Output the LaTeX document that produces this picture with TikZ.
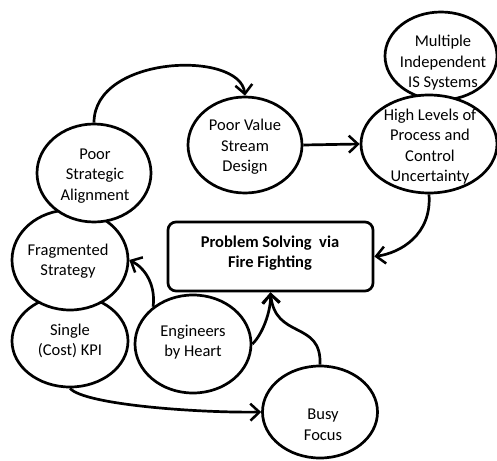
\documentclass[tikz,border=0pt]{standalone}
\usepackage{fontspec}
\setmainfont{Carlito}
\usetikzlibrary{shapes.geometric,arrows.meta}
\tikzset{
  ell/.style={draw, ellipse, line width=2.7pt, fill=white, inner sep=0pt},
  txt/.style={align=center, inner sep=0pt, font=\fontsize{16.5}{20.5}\selectfont},
  btxt/.style={align=center, inner sep=0pt, font=\fontsize{16.5}{20}\selectfont\bfseries},
  conn/.style={line width=2.7pt, -{Straight Barb[length=9pt,width=17pt,line width=2.5pt]}},
}
\begin{document}
\begin{tikzpicture}[x=1pt,y=-1pt]
\useasboundingbox (0,0) rectangle (497,460);
% ellipses
\node[ell, minimum width=112pt, minimum height=88pt] (mis) at (441,56) {};
\node[ell, minimum width=136pt, minimum height=98pt] (hl) at (429,144) {};
\node[ell, minimum width=114pt, minimum height=96pt] (pvs) at (245,145) {};
\node[ell, minimum width=116pt, minimum height=92pt] (sk) at (70,341) {};
\node[ell, minimum width=116pt, minimum height=100pt] (fs) at (70,260) {};
\node[ell, minimum width=114pt, minimum height=98pt] (psa) at (94,173) {};
\node[ell, minimum width=116pt, minimum height=98pt] (eh) at (193,344) {};
\node[ell, minimum width=115pt, minimum height=92pt] (bf) at (320,412) {};
\node[draw, rounded corners=8pt, line width=2.7pt, minimum width=205pt, minimum height=69pt] (box) at (270.5,256.5) {};
% texts
\node[txt] (mist) at (443,63) {Multiple\\Independent\\IS Systems};
\node[txt] (hlt) at (430,146.5) {High Levels of\\Process and\\Control\\Uncertainty};
\node[txt] (pvst) at (245,147) {Poor Value\\Stream\\Design};
\node[txt] (psat) at (95,176) {Poor\\Strategic\\Alignment};
\node[txt] (fst) at (68,261) {Fragmented\\Strategy};
\node[txt] (skt) at (70,341) {Single\\(Cost) KPI};
\node[txt] (eht) at (193,342) {Engineers\\by Heart};
\node[txt] (bft) at (323,425) {Busy\\Focus};
\node[btxt] (boxt) at (270,253) {Problem Solving~~via\\Fire Fighting};
% connectors
\draw[conn] (psa.north) .. controls (94,55) and (240,50) .. (pvs.north);
\draw[conn] (pvs.east) -- (hl.west);
\draw[conn] (hl.south) .. controls (432,235) and (400,253) .. (box.east);
\draw[conn] (eh.137) .. controls (156,285) and (145,268) .. (fs.east);
\draw[conn] (eh.east) .. controls (262,335) and (271,312) .. (box.south);
\draw[conn] (bf.north) .. controls (322,320) and (275,340) .. (box.south);
\draw[conn] (sk.south) .. controls (85,405) and (200,413) .. (bf.west);
\end{tikzpicture}
\end{document}
